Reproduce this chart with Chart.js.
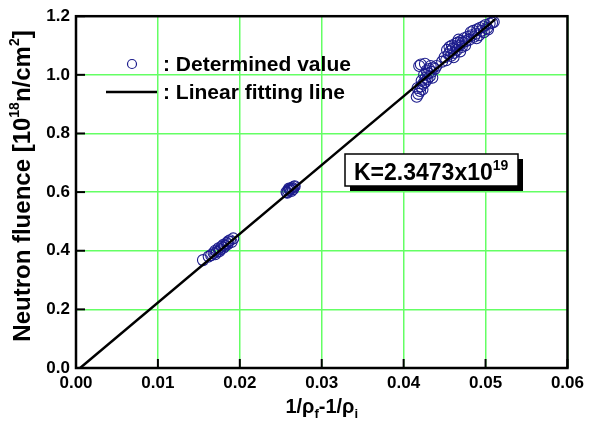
<!DOCTYPE html>
<html>
<head>
<meta charset="utf-8">
<script src="https://cdn.jsdelivr.net/npm/chart.js@4.4.1/dist/chart.umd.min.js"></script>
<style>
  html, body { margin: 0; padding: 0; background: #fff; }
  canvas { display: block; }
</style>
</head>
<body>
<canvas id="chart" width="589" height="425"></canvas>
<script>
// measured points (1/rho_f - 1/rho_i, fluence in 1e18 n/cm2)
const detX = [
  0.0155, 0.0162, 0.0165, 0.0168, 0.0170, 0.0172, 0.0174, 0.0176, 0.0178, 0.0180,
  0.0182, 0.0184, 0.0186, 0.0188, 0.0190, 0.0170, 0.0175, 0.0180, 0.0185, 0.0192,
  0.0257, 0.0259, 0.0261, 0.0262, 0.0264, 0.0265, 0.0266, 0.0263, 0.0260, 0.0267, 0.0258,
  0.0416, 0.0418, 0.0420, 0.0417, 0.0421, 0.0423, 0.0424, 0.0426, 0.0422, 0.0427,
  0.0429, 0.0425, 0.0430, 0.0432, 0.0428, 0.0431, 0.0434, 0.0436, 0.0433, 0.0438,
  0.0440, 0.0419, 0.0435, 0.0421, 0.0426,
  0.0447, 0.0450, 0.0452, 0.0455, 0.0457, 0.0453, 0.0458, 0.0460, 0.0462, 0.0459,
  0.0463, 0.0465, 0.0466, 0.0464, 0.0468, 0.0470, 0.0467, 0.0472, 0.0474, 0.0471,
  0.0476, 0.0478, 0.0456, 0.0461, 0.0469, 0.0475, 0.0480, 0.0483, 0.0486,
  0.0482, 0.0485, 0.0488, 0.0490, 0.0493, 0.0495, 0.0497, 0.0500, 0.0502, 0.0505,
  0.0508, 0.0510, 0.0489, 0.0492, 0.0498, 0.0503
];
const detY = [
  0.368, 0.380, 0.385, 0.392, 0.400, 0.396, 0.408, 0.404, 0.414, 0.420,
  0.416, 0.426, 0.432, 0.436, 0.430, 0.388, 0.398, 0.410, 0.422, 0.442,
  0.600, 0.605, 0.608, 0.612, 0.615, 0.610, 0.618, 0.604, 0.612, 0.620, 0.598,
  0.925, 0.935, 0.945, 0.955, 0.960, 0.950, 0.970, 0.975, 0.980, 0.990,
  0.985, 1.000, 1.005, 0.995, 1.015, 1.020, 1.010, 1.025, 1.030, 1.020,
  1.030, 1.030, 0.990, 1.035, 1.038,
  1.045, 1.060, 1.050, 1.070, 1.080, 1.085, 1.065, 1.090, 1.075, 1.100,
  1.105, 1.085, 1.110, 1.095, 1.100, 1.115, 1.120, 1.110, 1.125, 1.095,
  1.115, 1.130, 1.095, 1.060, 1.080, 1.100, 1.120, 1.135, 1.130,
  1.145, 1.150, 1.140, 1.155, 1.160, 1.150, 1.165, 1.170, 1.160, 1.175,
  1.178, 1.180, 1.125, 1.135, 1.145, 1.155
];
// linear fit end points
const fitX = [0.0005, 0.0512];
const fitY = [0.0, 1.19];

const xTicks = [0, 0.01, 0.02, 0.03, 0.04, 0.05, 0.06];
const yTicks = [0, 0.2, 0.4, 0.6, 0.8, 1.0, 1.2];

const BOLD = '"Liberation Sans", Arial, sans-serif';
const PT_COLOR = '#1c1c8c';
const GRID = 'rgb(100,255,100)';

// draws text runs with superscripts, returns total width
function runs(ctx, parts, x, y, size, measureOnly) {
  let w = 0;
  parts.forEach(p => {
    const s = p.sup ? Math.round(size * 0.6) : size;
    ctx.font = `bold ${s}px ${BOLD}`;
    if (!measureOnly) ctx.fillText(p.t, x + w, p.sup ? y - size * 0.45 : y);
    w += ctx.measureText(p.t).width;
  });
  return w;
}

const decorPlugin = {
  id: 'decor',
  afterDatasetsDraw(chart) {
    const { ctx, chartArea: a, scales } = chart;
    ctx.save();
    // inward ticks
    ctx.strokeStyle = '#000';
    ctx.lineWidth = 2;
    xTicks.forEach(v => {
      const px = scales.x.getPixelForValue(v);
      ctx.beginPath(); ctx.moveTo(px, a.bottom); ctx.lineTo(px, a.bottom - 9); ctx.stroke();
    });
    yTicks.forEach(v => {
      const py = scales.y.getPixelForValue(v);
      ctx.beginPath(); ctx.moveTo(a.left, py); ctx.lineTo(a.left + 9, py); ctx.stroke();
    });
    // frame
    ctx.lineWidth = 2.5;
    ctx.strokeRect(a.left, a.top, a.right - a.left, a.bottom - a.top);

    ctx.fillStyle = '#000';
    ctx.textBaseline = 'alphabetic';
    ctx.textAlign = 'left';

    // legend
    ctx.strokeStyle = PT_COLOR;
    ctx.lineWidth = 1.2;
    ctx.beginPath(); ctx.arc(132, 64, 4.5, 0, Math.PI * 2); ctx.stroke();
    ctx.strokeStyle = '#000';
    ctx.lineWidth = 2.5;
    ctx.beginPath(); ctx.moveTo(106, 92); ctx.lineTo(157, 92); ctx.stroke();
    runs(ctx, [{ t: ': Determined value' }], 163, 71, 21);
    runs(ctx, [{ t: ': Linear fitting line' }], 163, 99, 21);

    // K box
    ctx.fillStyle = '#000';
    ctx.fillRect(350, 159, 173, 32);
    ctx.fillStyle = '#fff';
    ctx.fillRect(345, 154, 173, 32);
    ctx.lineWidth = 1.5;
    ctx.strokeRect(345, 154, 173, 32);
    ctx.fillStyle = '#000';
    runs(ctx, [{ t: 'K=2.3473x10' }, { t: '19', sup: true }], 354, 180, 23);

    // x title
    const xt = [{ t: '1/\u03c1' }, { t: 'f', sub: true }, { t: '-1/\u03c1' }, { t: 'i', sub: true }];
    const drawSub = (parts, x, y, size, measure) => {
      let w = 0;
      parts.forEach(p => {
        const s = p.sub ? Math.round(size * 0.65) : size;
        ctx.font = `bold ${s}px ${BOLD}`;
        if (!measure) ctx.fillText(p.t, x + w, p.sub ? y + size * 0.25 : y);
        w += ctx.measureText(p.t).width;
      });
      return w;
    };
    const xw = drawSub(xt, 0, 0, 20, true);
    drawSub(xt, (a.left + a.right) / 2 - xw / 2, 413, 20, false);

    // y title
    const yt = [{ t: 'Neutron fluence [10' }, { t: '18', sup: true }, { t: 'n/cm' }, { t: '2', sup: true }, { t: ']' }];
    const yw = runs(ctx, yt, 0, 0, 24, true);
    ctx.translate(30, 186);
    ctx.rotate(-Math.PI / 2);
    runs(ctx, yt, -yw / 2, 0, 24, false);
    ctx.restore();
  }
};

new Chart(document.getElementById('chart'), {
  type: 'scatter',
  data: {
    datasets: [
      {
        type: 'line',
        data: fitX.map((x, i) => ({ x, y: fitY[i] })),
        borderColor: '#000',
        borderWidth: 2.5,
        pointRadius: 0,
        showLine: true,
        fill: false
      },
      {
        data: detX.map((x, i) => ({ x, y: detY[i] })),
        borderColor: PT_COLOR,
        backgroundColor: 'rgba(0,0,0,0)',
        borderWidth: 1.1,
        pointRadius: 5.5,
        pointStyle: 'circle'
      }
    ]
  },
  options: {
    responsive: false,
    animation: false,
    layout: { padding: { top: 14, right: 18, left: 0, bottom: 0 } },
    plugins: { legend: { display: false }, tooltip: { enabled: false } },
    scales: {
      x: {
        type: 'linear',
        min: 0, max: 0.06,
        afterBuildTicks: s => { s.ticks = xTicks.map(v => ({ value: v })); },
        afterFit: s => { s.height = 57; },
        grid: { color: GRID, lineWidth: 1.5, drawTicks: false },
        border: { display: false },
        ticks: {
          color: '#000', padding: 5,
          font: { family: BOLD, size: 17, weight: 'bold' },
          callback: v => v.toFixed(2)
        }
      },
      y: {
        type: 'linear',
        min: 0, max: 1.2,
        afterBuildTicks: s => { s.ticks = yTicks.map(v => ({ value: v })); },
        afterFit: s => { s.width = 76; },
        grid: { color: GRID, lineWidth: 1.5, drawTicks: false },
        border: { display: false },
        ticks: {
          color: '#000', padding: 6,
          font: { family: BOLD, size: 17, weight: 'bold' },
          callback: v => v.toFixed(1)
        }
      }
    }
  },
  plugins: [decorPlugin]
});
</script>
</body>
</html>
